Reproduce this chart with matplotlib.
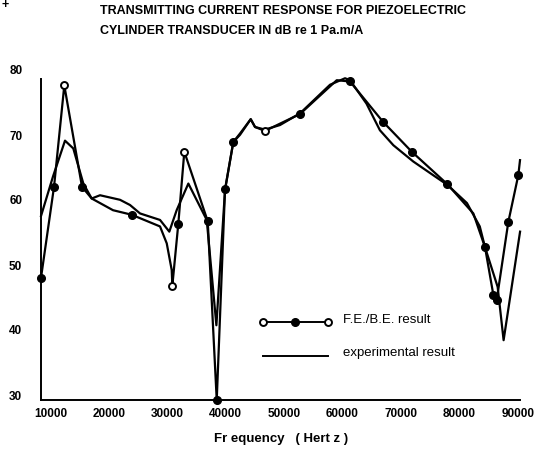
import matplotlib
matplotlib.use("Agg")
import matplotlib.pyplot as plt
import matplotlib.transforms as mtransforms

plt.rcParams["font.family"] = ["Liberation Sans", "DejaVu Sans"]

# F.E./B.E. computed response (Hz, dB re 1 Pa.m/A)
fe_freq = [8370, 10600, 12360, 15390, 17050, 20700, 23900, 28750, 29900, 30750,
           30860, 31880, 32910, 36920, 38460, 39880, 41300, 42450, 44280, 45020,
           46720, 52720, 59010, 61280, 66930, 71850, 77950, 82400, 84400, 85820,
           86400, 88390, 90100, 90390]
fe_db = [48.8, 62.8, 78.4, 62.8, 61.0, 59.2, 58.5, 56.7, 54.1, 50.0,
         47.6, 57.1, 68.2, 57.5, 30.0, 62.4, 69.7, 71.0, 73.2, 72.0,
         71.4, 74.0, 79.2, 79.0, 72.8, 68.2, 63.2, 58.7, 53.5, 46.2,
         45.4, 57.4, 64.6, 66.9]
# which of the points above carry a marker; open ones are hollow circles
fe_filled = [8370, 10600, 15390, 23900, 31880, 36920, 38460, 39880, 41300,
             52720, 61280, 66930, 71850, 77950, 84400, 85820, 86400, 88390, 90100]
fe_open = [12360, 30860, 32910, 46720]

# measured response
exp_freq = [8370, 10430, 12480, 13900, 15620, 17050, 18480, 21900, 23610, 25330,
            28750, 30340, 31600, 33600, 36750, 38400, 39880, 41300, 42450, 44280,
            45020, 46720, 49290, 52720, 57860, 60430, 61280, 64100, 66400, 68700,
            72100, 75500, 77950, 81300, 83500, 84400, 86560, 87580, 90400]
exp_db = [58.3, 64.4, 69.9, 68.7, 63.3, 61.0, 61.5, 60.8, 60.0, 58.7,
          57.7, 55.9, 59.2, 63.3, 57.7, 41.5, 62.3, 69.7, 70.8, 73.2,
          72.0, 71.6, 72.3, 74.1, 78.5, 79.5, 79.2, 75.6, 71.5, 69.2,
          66.7, 64.6, 63.1, 60.3, 56.7, 53.5, 47.4, 39.2, 55.9]

x_ticks = [10000, 20000, 30000, 40000, 50000, 60000, 70000, 80000, 90000]
y_ticks = [30, 40, 50, 60, 70, 80]

title_lines = ["TRANSMITTING CURRENT RESPONSE FOR PIEZOELECTRIC",
               "CYLINDER TRANSDUCER IN dB re 1 Pa.m/A"]

fig = plt.figure(figsize=(5.35, 4.49), dpi=100)
ax = fig.add_axes([41 / 535, 49 / 449, 481 / 535, 325 / 449])

ax.plot(exp_freq, exp_db, color="black", lw=1.6, clip_on=False)
ax.plot(fe_freq, fe_db, color="black", lw=1.6, clip_on=False)

fmap = dict(zip(fe_freq, fe_db))
ax.plot(fe_filled, [fmap[f] for f in fe_filled], ls="none", marker="o", ms=5.5,
        mfc="black", mec="black", clip_on=False, zorder=3)
ax.plot(fe_open, [fmap[f] for f in fe_open], ls="none", marker="o", ms=5,
        mfc="white", mec="black", mew=1.4, clip_on=False, zorder=3)

ax.set_xlim(8370, 90730)
ax.set_ylim(30, 80)
ax.set_xticks(x_ticks)
ax.set_yticks(y_ticks)
ax.set_xticklabels([str(t) for t in x_ticks])
ax.set_yticklabels([str(t) for t in y_ticks])
ax.tick_params(length=0, labelsize=8.5)
ax.tick_params(axis="x", pad=6)
ax.tick_params(axis="y", pad=13.5)
for lab in ax.get_xticklabels() + ax.get_yticklabels():
    lab.set_fontweight("bold")
shift = mtransforms.ScaledTranslation(0, 5 / 100, fig.dpi_scale_trans)
for lab in ax.get_yticklabels():
    lab.set_transform(lab.get_transform() + shift)

for side in ("top", "right"):
    ax.spines[side].set_visible(False)
ax.spines["left"].set_bounds(30, 79.4)
ax.spines["bottom"].set_bounds(8370, 90330)
ax.spines["left"].set_linewidth(1.4)
ax.spines["bottom"].set_linewidth(1.4)

ax.set_xlabel("Fr equency   ( Hert z )", fontsize=9.5, fontweight="bold", labelpad=9)

# hand-made key, as in the original
ax.plot([0.4615, 0.597], [0.24, 0.24], transform=ax.transAxes, color="black", lw=1.4)
ax.plot([0.4615, 0.597], [0.24, 0.24], transform=ax.transAxes, ls="none", marker="o",
        ms=5, mfc="white", mec="black", mew=1.4)
ax.plot([0.529], [0.24], transform=ax.transAxes, marker="o", ms=5.5, color="black")
ax.plot([0.4615, 0.597], [0.135, 0.135], transform=ax.transAxes, color="black", lw=1.4)
ax.text(0.628, 0.246, "F.E./B.E. result", transform=ax.transAxes, fontsize=9.5, va="center")
ax.text(0.628, 0.145, "experimental result", transform=ax.transAxes, fontsize=9.5, va="center")

fig.text(100 / 535, 1 - 11 / 449, title_lines[0], fontsize=9, fontweight="bold", va="center")
fig.text(100 / 535, 1 - 31 / 449, title_lines[1], fontsize=9, fontweight="bold", va="center")
fig.text(2 / 535, 1 - 5 / 449, "+", fontsize=9, fontweight="bold", va="center")

fig.savefig("out.png", dpi=100)
